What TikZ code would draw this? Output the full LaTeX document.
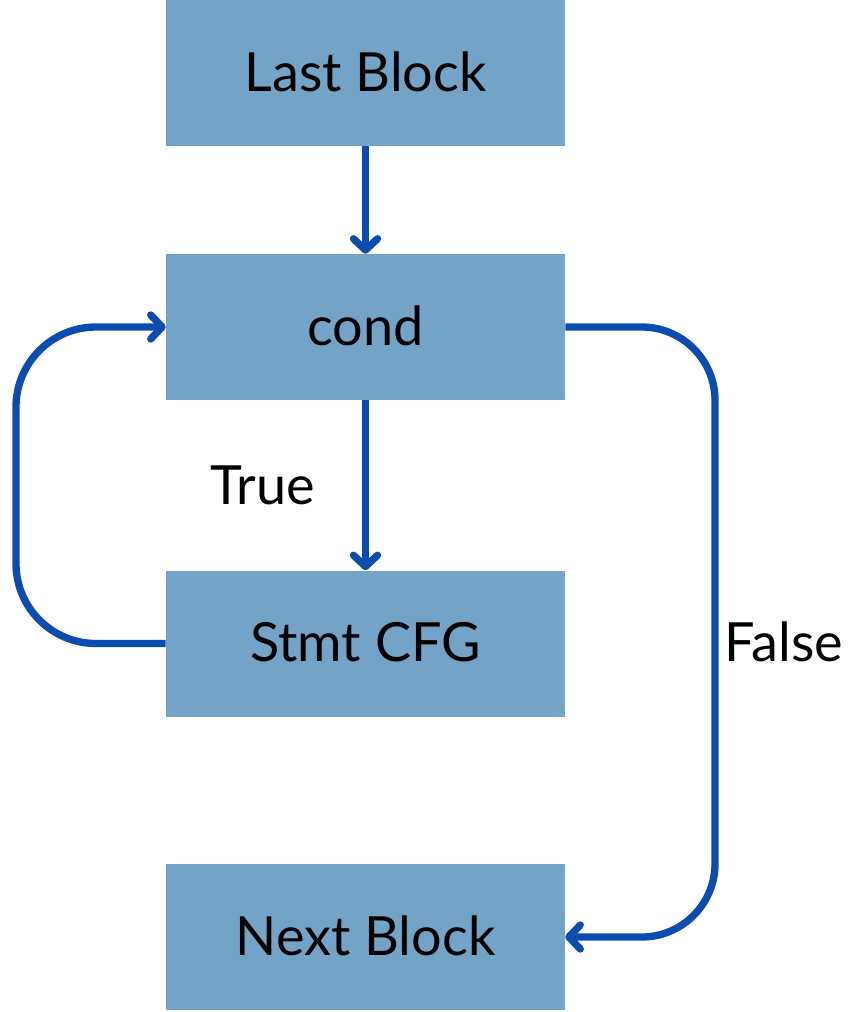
\documentclass[tikz,border=0pt]{standalone}
\usepackage{fontspec}
\setmainfont{Lato}
\usetikzlibrary{arrows.meta}
\definecolor{boxfill}{RGB}{115,164,199}
\definecolor{arrowblue}{RGB}{10,76,175}
\begin{document}
\begin{tikzpicture}[x=0.75pt,y=-0.75pt,
 block/.style={fill=boxfill, draw=none, minimum width=299.25pt, minimum height=109.5pt, inner sep=0pt, font=\fontsize{40.5}{46}\selectfont},
 flow/.style={draw=arrowblue, line width=5.5pt, -{Straight Barb[length=8.5pt,width=18pt,line cap=round,round]}},
 lbl/.style={font=\fontsize{40.5}{46}\selectfont}]
\useasboundingbox (0,0) rectangle (856,1012);
\node[block] (last) at (365.5,73) {\raisebox{2pt}{Last Block}};
\node[block] (cond) at (365.5,327) {\raisebox{2pt}{cond}};
\node[block] (stmt) at (365.5,643.5) {\raisebox{2pt}{Stmt CFG}};
\node[block] (next) at (365.5,937) {\raisebox{2pt}{Next Block}};
\draw[flow] (last) -- (cond);
\draw[flow] (cond) -- (stmt);
\draw[flow, rounded corners=60pt] (stmt.west) -- (16,643.5) -- (16,327) -- (cond.west);
\draw[flow, rounded corners=55pt] (cond.east) -- (715,327) -- (715,937) -- (next.east);
\node[lbl] (t) at (263,485) {True};
\node[lbl] (f) at (784,642) {False};
\end{tikzpicture}
\end{document}
